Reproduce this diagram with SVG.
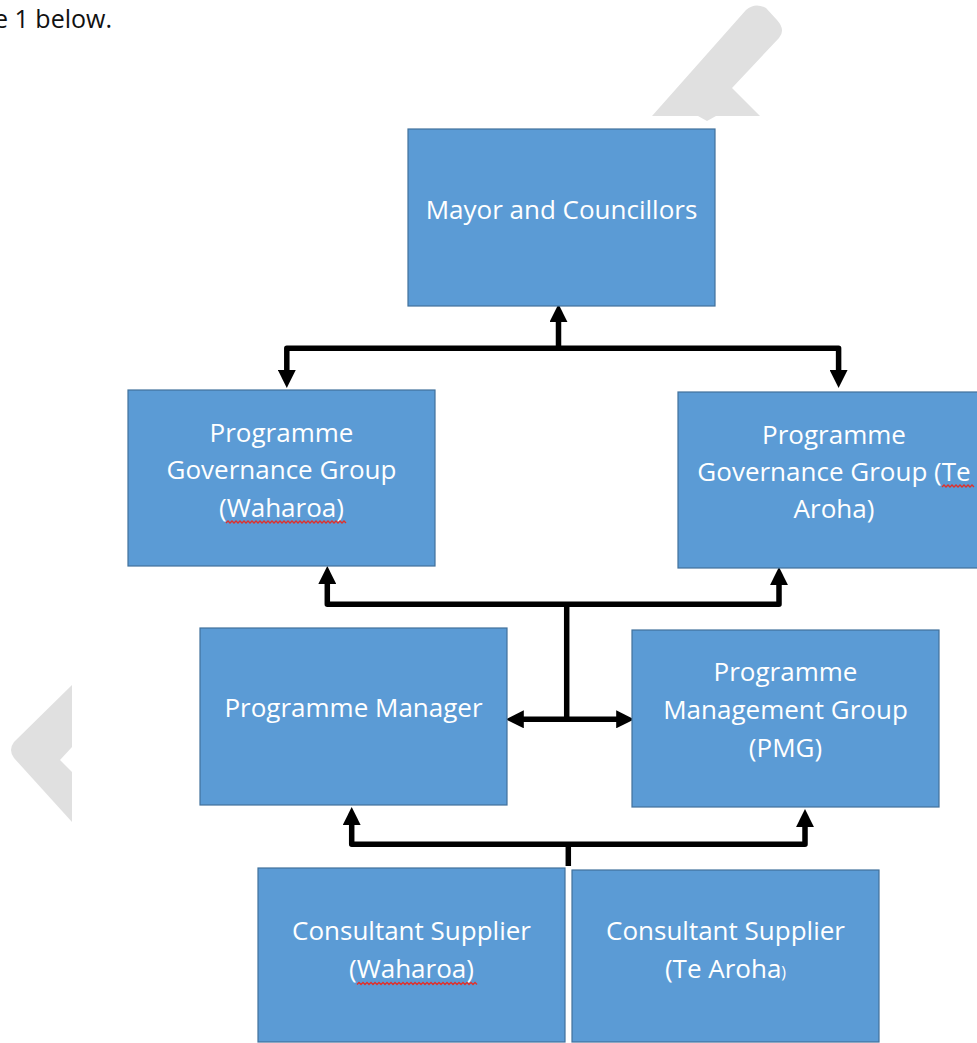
<svg xmlns="http://www.w3.org/2000/svg" width="977" height="1043" viewBox="0 0 977 1043">
<defs>
<style>
.box{fill:#5B9BD5;stroke:#41719C;stroke-width:1.2}
.lbl{font-family:"Open Sans","Liberation Sans",sans-serif;font-size:26px;fill:#FFFFFF;text-anchor:middle}
.con{fill:none;stroke:#000;stroke-width:5.5;stroke-linejoin:round}
.wm{fill:#E0E0E0}
.sq{fill:none;stroke:#E0302A;stroke-width:1.3}
</style>
<marker id="ah" markerUnits="userSpaceOnUse" markerWidth="18" markerHeight="18" viewBox="0 0 17 17" refX="2" refY="8.5" orient="auto-start-reverse">
<path d="M0,0 L17,8.5 L0,17 z" fill="#000"/>
</marker>
</defs>
<rect width="977" height="1043" fill="#FFFFFF"/>
<g id="watermark">
<path class="wm" d="M652,116 L746,10 Q755,2 766,8 L777,20 Q786,30 779,38 L732,88 L760,116 Z"/>
<path class="wm" d="M698,116 L707,121 L716,116 Z"/>
<path class="wm" d="M72,685 L14,742 Q8,750 14,758 L72,822 L72,772 L60,760 L72,747 Z"/>
</g>
<text id="caption" x="112" y="28" text-anchor="end" font-family="'Open Sans','Liberation Sans',sans-serif" font-size="25" fill="#111">e 1 below.</text>
<g id="connectors">
<path class="con" d="M286.8,372 V348.3 H838.6 V372" marker-start="url(#ah)" marker-end="url(#ah)"/>
<path class="con" d="M558.5,348.3 V320" marker-end="url(#ah)"/>
<path class="con" d="M327.3,582 V604.3 H779 V583" marker-start="url(#ah)" marker-end="url(#ah)"/>
<path class="con" d="M566.7,604.3 V719.3"/>
<path class="con" d="M521.7,719.3 H618.3" marker-start="url(#ah)" marker-end="url(#ah)"/>
<path class="con" d="M351.7,823 V844.3 H805 V825" marker-start="url(#ah)" marker-end="url(#ah)"/>
<path class="con" d="M568.3,844.3 V866"/>
</g>
<g id="mayor">
<rect class="box" x="408" y="129" width="307" height="177"/>
<text class="lbl" x="561.5" y="219">Mayor and Councillors</text>
</g>
<g id="pgg-waharoa">
<rect class="box" x="128" y="390" width="307" height="176"/>
<text class="lbl" x="281.5" y="442">Programme</text>
<text class="lbl" x="281.5" y="479">Governance Group</text>
<text class="lbl" x="281.5" y="516.5">(Waharoa)</text>
<path class="sq" d="M226,523 l2,-2 l2,2 l2,-2 l2,2 l2,-2 l2,2 l2,-2 l2,2 l2,-2 l2,2 l2,-2 l2,2 l2,-2 l2,2 l2,-2 l2,2 l2,-2 l2,2 l2,-2 l2,2 l2,-2 l2,2 l2,-2 l2,2 l2,-2 l2,2 l2,-2 l2,2 l2,-2 l2,2 l2,-2 l2,2 l2,-2 l2,2 l2,-2 l2,2 l2,-2 l2,2 l2,-2 l2,2 l2,-2 l2,2 l2,-2 l2,2 l2,-2 l2,2 l2,-2 l2,2 l2,-2 l2,2 l2,-2 l2,2 l2,-2 l2,2 l2,-2 l2,2 l2,-2 l2,2 l2,-2 l2,2"/>
</g>
<g id="pgg-tearoha">
<rect class="box" x="678" y="392" width="307" height="176"/>
<text class="lbl" x="834" y="443.5">Programme</text>
<text class="lbl" x="834" y="480.5">Governance Group (Te</text>
<text class="lbl" x="834" y="517.5">Aroha)</text>
<path class="sq" d="M942,487 l2,-2 l2,2 l2,-2 l2,2 l2,-2 l2,2 l2,-2 l2,2 l2,-2 l2,2 l2,-2 l2,2 l2,-2 l2,2 l2,-2 l2,2"/>
</g>
<g id="programme-manager">
<rect class="box" x="200" y="628" width="307" height="177"/>
<text class="lbl" x="353.5" y="717">Programme Manager</text>
</g>
<g id="pmg">
<rect class="box" x="632" y="630" width="307" height="177"/>
<text class="lbl" x="785.5" y="681">Programme</text>
<text class="lbl" x="785.5" y="719">Management Group</text>
<text class="lbl" x="785.5" y="756.5">(PMG)</text>
</g>
<g id="consultant-waharoa">
<rect class="box" x="258" y="868" width="307" height="174"/>
<text class="lbl" x="411.5" y="940">Consultant Supplier</text>
<text class="lbl" x="411.5" y="978">(Waharoa)</text>
<path class="sq" d="M357,984.5 l2,-2 l2,2 l2,-2 l2,2 l2,-2 l2,2 l2,-2 l2,2 l2,-2 l2,2 l2,-2 l2,2 l2,-2 l2,2 l2,-2 l2,2 l2,-2 l2,2 l2,-2 l2,2 l2,-2 l2,2 l2,-2 l2,2 l2,-2 l2,2 l2,-2 l2,2 l2,-2 l2,2 l2,-2 l2,2 l2,-2 l2,2 l2,-2 l2,2 l2,-2 l2,2 l2,-2 l2,2 l2,-2 l2,2 l2,-2 l2,2 l2,-2 l2,2 l2,-2 l2,2 l2,-2 l2,2 l2,-2 l2,2 l2,-2 l2,2 l2,-2 l2,2 l2,-2 l2,2 l2,-2 l2,2"/>
</g>
<g id="consultant-tearoha">
<rect class="box" x="572" y="870" width="307" height="172"/>
<text class="lbl" x="725.5" y="940">Consultant Supplier</text>
<text class="lbl" x="725.5" y="978">(Te Aroha<tspan font-size="16">)</tspan></text>
</g>
</svg>
